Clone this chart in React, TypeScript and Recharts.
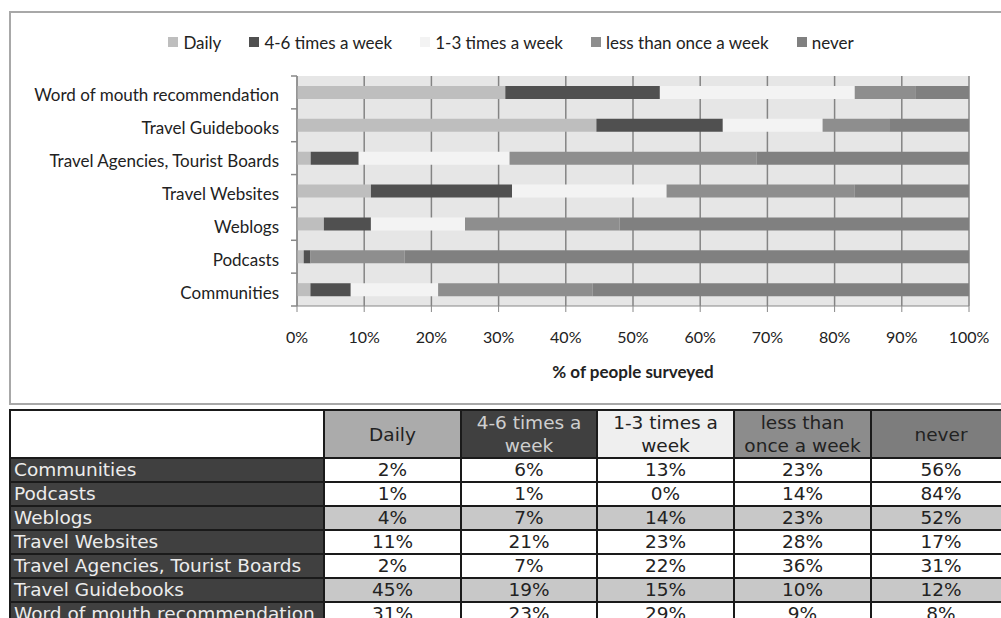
import { BarChart, Bar, XAxis, YAxis, CartesianGrid, Legend, Label } from 'recharts';

const categories = [
  'Communities',
  'Podcasts',
  'Weblogs',
  'Travel Websites',
  'Travel Agencies, Tourist Boards',
  'Travel Guidebooks',
  'Word of mouth recommendation',
];
const daily = [2, 1, 4, 11, 2, 45, 31];
const fourToSix = [6, 1, 7, 21, 7, 19, 23];
const oneToThree = [13, 0, 14, 23, 22, 15, 29];
const lessThanWeekly = [23, 14, 23, 28, 36, 10, 9];
const never = [56, 84, 52, 17, 31, 12, 8];

const seriesNames = ['Daily', '4-6 times a week', '1-3 times a week', 'less than once a week', 'never'];
const seriesKeys = ['daily', 'fourToSix', 'oneToThree', 'lessThanWeekly', 'never'];
const seriesColors = ['#bebebe', '#505050', '#f3f3f3', '#8e8e8e', '#808080'];
const xTicks = [0, 0.1, 0.2, 0.3, 0.4, 0.5, 0.6, 0.7, 0.8, 0.9, 1];

const seriesValues = [daily, fourToSix, oneToThree, lessThanWeekly, never];

const data = categories.map((name, i) => ({
  name,
  daily: daily[i],
  fourToSix: fourToSix[i],
  oneToThree: oneToThree[i],
  lessThanWeekly: lessThanWeekly[i],
  never: never[i],
}));

const chartFont = 'Lato, "Open Sans", sans-serif';
const tableFont = '"DejaVu Sans", Verdana, sans-serif';

const CHART_W = 1000;
const CHART_H = 388;
const MARGIN = { top: 18, right: 42, bottom: 21, left: 0 };
const LEGEND_H = 45;
const XAXIS_H = 74;
const PLOT_H = CHART_H - MARGIN.top - LEGEND_H - MARGIN.bottom - XAXIS_H;
const BAND = PLOT_H / categories.length;
const Y_TICK_MARGIN = 18;

function CategoryTick(props: any) {
  const { x, y, payload, index } = props;
  const axisX = x + Y_TICK_MARGIN;
  return (
    <g>
      <text x={x} y={y + 3} dy="0.35em" textAnchor="end" fill="#222" fontSize={17} fontFamily={chartFont}>
        {payload.value}
      </text>
      <line x1={axisX - 6} x2={axisX} y1={y - BAND / 2} y2={y - BAND / 2} stroke="#888" strokeWidth={1.5} />
      {index === 0 && (
        <line x1={axisX - 6} x2={axisX} y1={y + BAND / 2} y2={y + BAND / 2} stroke="#888" strokeWidth={1.5} />
      )}
    </g>
  );
}

function ChartLegend() {
  return (
    <div
      style={{
        width: CHART_W,
        height: LEGEND_H,
        display: 'flex',
        justifyContent: 'center',
        gap: 28,
        fontFamily: chartFont,
        fontSize: 17,
        color: '#222',
      }}
    >
      {seriesNames.map((n, i) => (
        <div key={n} style={{ display: 'flex', alignItems: 'center', height: 22 }}>
          <span style={{ width: 10, height: 10, background: seriesColors[i], marginRight: 5, display: 'inline-block' }} />
          {n}
        </div>
      ))}
    </div>
  );
}

const headerStyles = [
  { background: '#ababab', color: '#222' },
  { background: '#404040', color: '#cfcfcf' },
  { background: '#efefef', color: '#222' },
  { background: '#8c8c8c', color: '#222' },
  { background: '#7d7d7d', color: '#222' },
];
const headerLines = [['Daily'], ['4-6 times a', 'week'], ['1-3 times a', 'week'], ['less than', 'once a week'], ['never']];
const shadedRows = [2, 5];
const colWidths = [314, 137, 136, 137, 137, 140];

export default function App() {
  const cell = { border: '2px solid #1a1a1a', padding: 0 };
  return (
    <div style={{ position: 'absolute', left: 0, top: 0, width: 1001, height: 618, overflow: 'hidden', background: '#fff' }}>
      <div
        style={{
          position: 'absolute',
          left: 9,
          top: 11,
          width: 1004,
          height: 394,
          border: '2px solid #a8a8a8',
          boxSizing: 'border-box',
        }}
      >
        <BarChart
          width={CHART_W}
          height={CHART_H}
          data={data}
          layout="vertical"
          stackOffset="expand"
          margin={MARGIN}
          barSize={13}
        >
          <CartesianGrid horizontal={false} stroke="#848484" strokeWidth={1.5} fill="#e6e6e6" />
          <Legend
            verticalAlign="top"
            align="center"
            wrapperStyle={{ left: 0, width: CHART_W }}
            content={<ChartLegend />}
          />
          <XAxis
            type="number"
            domain={[0, 1]}
            ticks={xTicks}
            tickFormatter={(v: number) => `${Math.round(v * 100)}%`}
            tick={{ fill: '#222', fontSize: 16, fontFamily: chartFont }}
            stroke="#888"
            tickSize={6}
            tickMargin={20}
            height={XAXIS_H}
            interval={0}
          >
            <Label
              value="% of people surveyed"
              position="insideBottom"
              offset={2}
              style={{ fontWeight: 'bold', fontSize: 17, fill: '#222', fontFamily: chartFont }}
            />
          </XAxis>
          <YAxis
            type="category"
            dataKey="name"
            reversed
            width={286}
            tickSize={0}
            tickMargin={Y_TICK_MARGIN}
            stroke="#888"
            tick={<CategoryTick />}
            interval={0}
          />
          {seriesKeys.map((k, i) => (
            <Bar key={k} dataKey={k} name={seriesNames[i]} stackId="a" fill={seriesColors[i]} isAnimationActive={false} />
          ))}
        </BarChart>
      </div>
      <table
        style={{
          position: 'absolute',
          left: 9,
          top: 409,
          borderCollapse: 'collapse',
          fontFamily: tableFont,
          fontSize: 18.5,
          tableLayout: 'fixed',
          width: colWidths.reduce((a, b) => a + b, 0),
        }}
      >
        <colgroup>
          {colWidths.map((w, i) => (
            <col key={i} style={{ width: w }} />
          ))}
        </colgroup>
        <thead>
          <tr style={{ height: 48 }}>
            <th style={{ ...cell, background: '#fff' }} />
            {headerLines.map((lines, i) => (
              <th
                key={i}
                style={{ ...cell, ...headerStyles[i], fontWeight: 'normal', lineHeight: '23px', textAlign: 'center' }}
              >
                {lines.map((l, j) => (
                  <div key={j}>{l}</div>
                ))}
              </th>
            ))}
          </tr>
        </thead>
        <tbody>
          {categories.map((c, r) => (
            <tr key={c} style={{ height: 24 }}>
              <td
                style={{
                  ...cell,
                  background: '#404040',
                  color: '#ececec',
                  paddingLeft: 3,
                  lineHeight: '20px',
                  whiteSpace: 'nowrap',
                  overflow: 'hidden',
                }}
              >
                {c}
              </td>
              {seriesValues.map((vals, s) => (
                <td
                  key={s}
                  style={{
                    ...cell,
                    textAlign: 'center',
                    color: '#222',
                    lineHeight: '20px',
                    background: shadedRows.includes(r) ? '#c8c8c8' : '#fff',
                  }}
                >
                  {vals[r]}%
                </td>
              ))}
            </tr>
          ))}
        </tbody>
      </table>
    </div>
  );
}
